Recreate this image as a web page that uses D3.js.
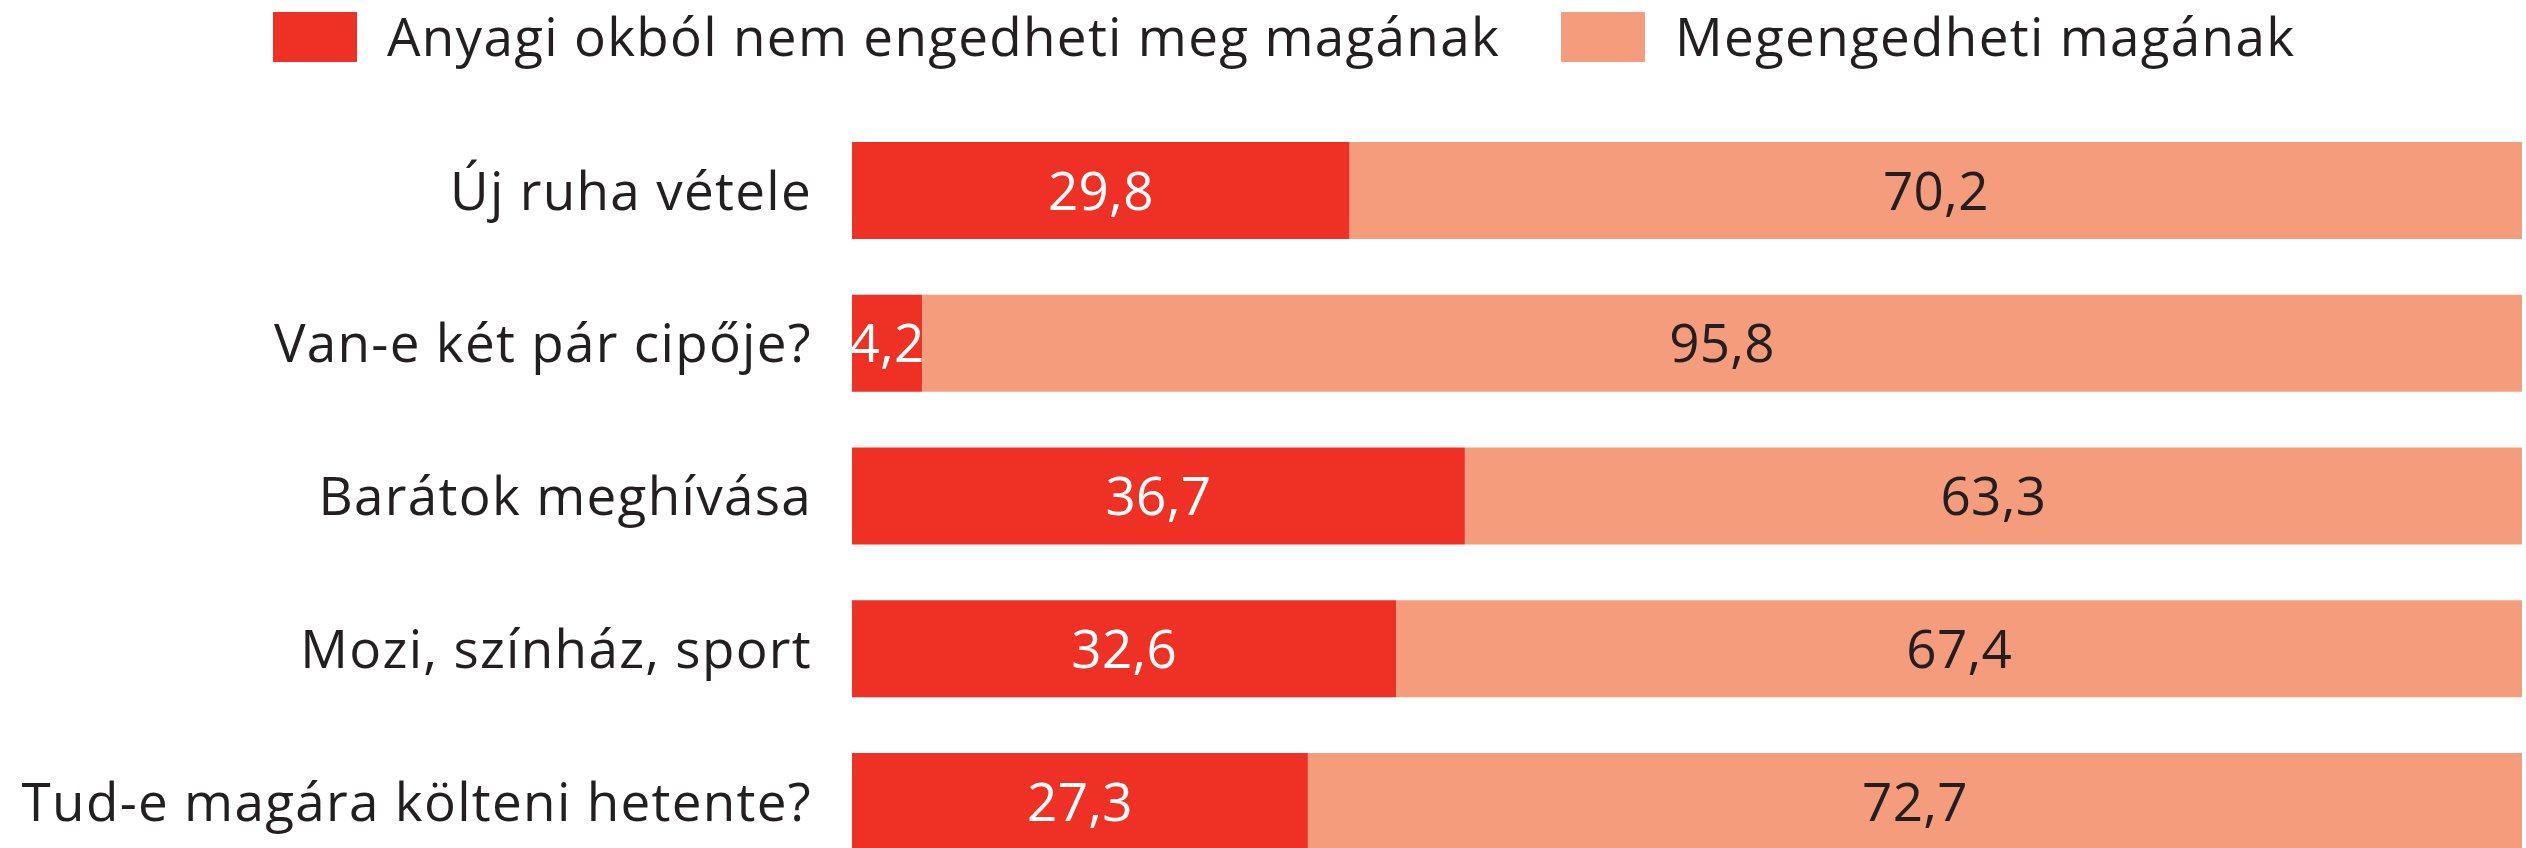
<!DOCTYPE html>
<html>
<head>
<meta charset="utf-8">
<script src="https://cdn.jsdelivr.net/npm/d3@7"></script>
<style>
  html, body { margin: 0; padding: 0; background: #fff; }
  svg { display: block; }
  text { font-family: "Open Sans", "Noto Sans", sans-serif; font-variant-ligatures: none; letter-spacing: 1.3px; }
  text.val { letter-spacing: 0.3px; }
</style>
</head>
<body>
<svg id="chart" width="2526" height="848"></svg>
<script>
const categories = [
  "Új ruha vétele",
  "Van-e két pár cipője?",
  "Barátok meghívása",
  "Mozi, színház, sport",
  "Tud-e magára költeni hetente?"
];
const cannotAfford = [29.8, 4.2, 36.7, 32.6, 27.3];
const canAfford = [70.2, 95.8, 63.3, 67.4, 72.7];
const seriesNames = ["Anyagi okból nem engedheti meg magának", "Megengedheti magának"];
const seriesColors = ["#ee3124", "#f59c7d"];
const labelColors = ["#ffffff", "#231f20"];

const W = 2526, H = 848;
const svg = d3.select("#chart");
const fs = 53;
const fmt = v => d3.format(".1f")(v).replace(".", ",");

const x = d3.scaleLinear().domain([0, 100]).range([852, 2522]);
const y = d3.scaleBand().domain(categories).range([142, 850]).paddingInner(0.365).paddingOuter(0);

const rows = categories.map((c, i) => ({
  cat: c,
  segs: [
    { s: 0, x0: 0, x1: cannotAfford[i], v: cannotAfford[i] },
    { s: 1, x0: cannotAfford[i], x1: cannotAfford[i] + canAfford[i], v: canAfford[i] }
  ]
}));

const g = svg.append("g");
const row = g.selectAll("g.row").data(rows).join("g").attr("class", "row");

row.selectAll("rect").data(d => d.segs.map(s => ({...s, cat: d.cat}))).join("rect")
  .attr("x", d => x(d.x0))
  .attr("width", d => x(d.x1) - x(d.x0))
  .attr("y", d => y(d.cat))
  .attr("height", y.bandwidth())
  .attr("fill", d => seriesColors[d.s]);

row.selectAll("text.val").data(d => d.segs.map(s => ({...s, cat: d.cat}))).join("text")
  .attr("class", "val")
  .attr("x", d => (x(d.x0) + x(d.x1)) / 2)
  .attr("y", d => y(d.cat) + y.bandwidth() / 2 + fs * 0.36)
  .attr("text-anchor", "middle")
  .attr("font-size", fs)
  .attr("font-weight", 500)
  .attr("fill", d => labelColors[d.s])
  .text(d => fmt(d.v));

// category axis
const yAxis = d3.axisLeft(y).tickSize(0).tickPadding(0);
const ax = svg.append("g").attr("transform", "translate(812,0)").call(yAxis);
ax.select(".domain").remove();
ax.selectAll("text")
  .attr("font-size", fs)
  .attr("fill", "#231f20")
  .attr("dy", null)
  .attr("y", fs * 0.36)
  .style("font-family", "'Open Sans', 'Noto Sans', sans-serif");

// legend
const legendX = [273, 1561];
const leg = svg.append("g").selectAll("g").data(seriesNames).join("g")
  .attr("transform", (d, i) => `translate(${legendX[i]},12)`);
leg.append("rect").attr("width", 84).attr("height", 50).attr("fill", (d, i) => seriesColors[i]);
leg.append("text")
  .attr("x", 114)
  .attr("y", 25 + fs * 0.36)
  .attr("font-size", fs)
  .attr("fill", "#231f20")
  .text(d => d);
</script>
</body>
</html>
